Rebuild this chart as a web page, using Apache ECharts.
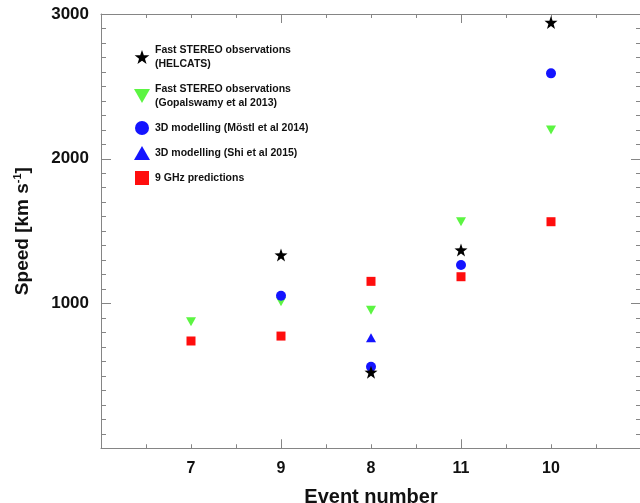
<!DOCTYPE html>
<html>
<head>
<meta charset="utf-8">
<script src="https://cdn.jsdelivr.net/npm/echarts@6/dist/echarts.min.js"></script>
<style>
html,body{margin:0;padding:0;background:#fff;}
#chart{width:640px;height:503px;}
</style>
</head>
<body>
<div id="chart"></div>
<script>
// ---- data ----
const eventLabels = ['7', '9', '8', '11', '10'];
const helcats     = [null, 1335, 525, 1370, 2942];
const gopalswamy  = [874, 1012, 953, 1565, 2199];
const mostl       = [null, 1054, 563, 1266, 2590];
const shi         = [null, null, 764, null, null];
const ghz9        = [741, 775, 1153, 1185, 1565];
const yTickLabels = ['1000', '2000', '3000'];

const seriesNames = {
  helcats: 'Fast STEREO observations (HELCATS)',
  gopal: 'Fast STEREO observations (Gopalswamy et al 2013)',
  mostl: '3D modelling (Möstl et al 2014)',
  shi: '3D modelling (Shi et al 2015)',
  ghz: '9 GHz predictions'
};
const legendText = {};
legendText[seriesNames.helcats] = 'Fast STEREO observations\n(HELCATS)';
legendText[seriesNames.gopal] = 'Fast STEREO observations\n(Gopalswamy et al 2013)';
legendText[seriesNames.mostl] = '3D modelling (Möstl et al 2014)';
legendText[seriesNames.shi] = '3D modelling (Shi et al 2015)';
legendText[seriesNames.ghz] = '9 GHz predictions';

function toPoints(arr) {
  const out = [];
  arr.forEach((v, i) => { if (v !== null) out.push([i + 1, v]); });
  return out;
}

const STAR = 'path://M50 0 L61.76 33.82 L97.55 34.55 L69.02 56.18 L79.39 90.45 L50 70 L20.61 90.45 L30.98 56.18 L2.45 34.55 L38.24 33.82 Z';
const TRI_DOWN = 'path://M0 0 L100 0 L50 87 Z';
const TRI_UP = 'path://M50 0 L100 87 L0 87 Z';
const SQUARE = 'path://M0 0 L100 0 L100 100 L0 100 Z';

const FONT = "'Liberation Sans', Arial, Helvetica, sans-serif";
const AX = '#858585';
const GREEN = '#5cf542';
const BLUE = '#1414ff';
const RED = '#ff0d0d';

const chart = echarts.init(document.getElementById('chart'), null, {renderer: 'canvas'});

const tickAxisCommon = {
  type: 'value', min: 0, max: 6, gridIndex: 0,
  splitLine: {show: false}
};

const option = {
  animation: false,
  backgroundColor: '#fff',
  grid: {left: 101, top: 14, width: 540, height: 434.25, containLabel: false, outerBoundsMode: 'none'},
  legend: {
    orient: 'vertical', left: 134, top: 43, padding: 0,
    itemWidth: 16, itemHeight: 14, itemGap: 11,
    symbolKeepAspect: true,
    textStyle: {fontFamily: FONT, fontWeight: 'bold', fontSize: 10.5, color: '#111', lineHeight: 14},
    formatter: name => legendText[name],
    data: [
      {name: seriesNames.helcats, icon: STAR},
      {name: seriesNames.gopal, icon: TRI_DOWN},
      {name: seriesNames.mostl, icon: 'circle'},
      {name: seriesNames.shi, icon: TRI_UP},
      {name: seriesNames.ghz, icon: SQUARE}
    ]
  },
  xAxis: [
    Object.assign({}, tickAxisCommon, {
      position: 'bottom', interval: 0.5,
      axisLine: {show: true, onZero: false, lineStyle: {color: AX, width: 1}},
      axisTick: {show: true, inside: true, length: 4, lineStyle: {color: AX}},
      axisLabel: {
        show: true, margin: 12, color: '#111', fontFamily: FONT, fontWeight: 'bold', fontSize: 16,
        formatter: v => (Number.isInteger(v) && v >= 1 && v <= eventLabels.length) ? eventLabels[v - 1] : ''
      },
      name: 'Event number', nameLocation: 'middle', nameGap: 39,
      nameTextStyle: {fontFamily: FONT, fontWeight: 'bold', fontSize: 20, color: '#111'}
    }),
    Object.assign({}, tickAxisCommon, {
      position: 'bottom', interval: 2,
      axisLine: {show: false, onZero: false},
      axisTick: {show: true, inside: true, length: 9, lineStyle: {color: AX}},
      axisLabel: {show: false}
    }),
    Object.assign({}, tickAxisCommon, {
      position: 'top', interval: 0.5,
      axisLine: {show: true, onZero: false, lineStyle: {color: AX, width: 1}},
      axisTick: {show: true, inside: true, length: 4, lineStyle: {color: AX}},
      axisLabel: {show: false}
    }),
    Object.assign({}, tickAxisCommon, {
      position: 'top', interval: 2,
      axisLine: {show: false, onZero: false},
      axisTick: {show: true, inside: true, length: 9, lineStyle: {color: AX}},
      axisLabel: {show: false}
    })
  ],
  yAxis: [
    {
      type: 'value', position: 'left', min: 0, max: 3000, interval: 1000,
      splitLine: {show: false},
      axisLine: {show: true, onZero: false, lineStyle: {color: AX, width: 1}},
      axisTick: {show: true, inside: true, length: 10, lineStyle: {color: AX}},
      minorTick: {show: true, splitNumber: 10, length: 5, lineStyle: {color: AX}},
      axisLabel: {
        show: true, margin: 12, color: '#111', fontFamily: FONT, fontWeight: 'bold', fontSize: 17,
        formatter: v => { const i = Math.round(v / 1000) - 1; return (i >= 0 && i < yTickLabels.length) ? yTickLabels[i] : ''; }
      },
      name: 'Speed [km s{sup|-1}]', nameLocation: 'middle', nameGap: 67, nameRotate: 90,
      nameTextStyle: {
        fontFamily: FONT, fontWeight: 'bold', fontSize: 19, color: '#111', lineHeight: 22,
        rich: {sup: {fontFamily: FONT, fontWeight: 'bold', fontSize: 11, color: '#111', verticalAlign: 'top', lineHeight: 22, padding: [0, 0, 9, 0]}}
      }
    },
    {
      type: 'value', position: 'right', min: 0, max: 3000, interval: 1000,
      splitLine: {show: false},
      axisLine: {show: true, onZero: false, lineStyle: {color: AX, width: 1}},
      axisTick: {show: true, inside: true, length: 10, lineStyle: {color: AX}},
      minorTick: {show: true, splitNumber: 10, length: 5, lineStyle: {color: AX}},
      axisLabel: {show: false}
    }
  ],
  series: [
    {name: seriesNames.gopal, type: 'scatter', xAxisIndex: 0, yAxisIndex: 0,
     symbol: TRI_DOWN, symbolSize: [10, 9], itemStyle: {color: GREEN, opacity: 1}, data: toPoints(gopalswamy)},
    {name: seriesNames.shi, type: 'scatter', xAxisIndex: 0, yAxisIndex: 0,
     symbol: TRI_UP, symbolSize: [10, 9], itemStyle: {color: BLUE, opacity: 1}, data: toPoints(shi)},
    {name: seriesNames.ghz, type: 'scatter', xAxisIndex: 0, yAxisIndex: 0,
     symbol: SQUARE, symbolSize: 9, itemStyle: {color: RED, opacity: 1}, data: toPoints(ghz9)},
    {name: seriesNames.mostl, type: 'scatter', xAxisIndex: 0, yAxisIndex: 0,
     symbol: 'circle', symbolSize: 10, itemStyle: {color: BLUE, opacity: 1}, data: toPoints(mostl)},
    {name: seriesNames.helcats, type: 'scatter', xAxisIndex: 0, yAxisIndex: 0,
     symbol: STAR, symbolSize: 13, itemStyle: {color: '#000', opacity: 1}, data: toPoints(helcats)}
  ]
};
chart.setOption(option);
</script>
</body>
</html>
